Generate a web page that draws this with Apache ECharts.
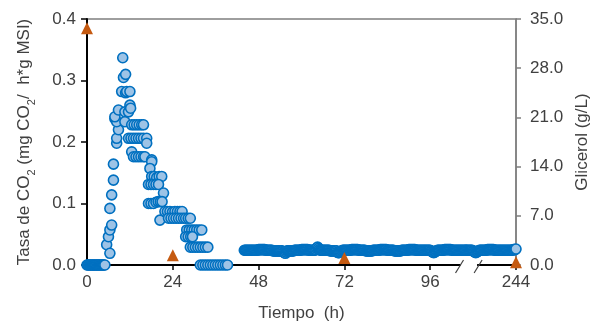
<!DOCTYPE html>
<html>
<head>
<meta charset="utf-8">
<script src="https://cdn.jsdelivr.net/npm/echarts@6/dist/echarts.min.js"></script>
<style>
  html, body { margin: 0; padding: 0; background: #fff; }
  #chart { width: 592px; height: 322px; }
</style>
</head>
<body>
<div id="chart"></div>
<script>
// CO2 rate, first 40 h (hours, mg CO2 / h*g MSI)
const co2Hours = [
  0, 0.25, 0.5, 0.75, 1, 1.25, 1.5, 1.75, 2, 2.25, 2.5, 2.75,
  3, 3.25, 3.5, 3.75, 4, 4.25, 4.5, 4.75, 5,
  5.5, 6.0, 6.4, 6.4, 6.9, 6.4, 6.9, 7.4, 7.4, 8.3, 8.3, 8.8, 7.8, 8.3, 7.8, 8.8,
  9.7, 10.2, 10.8, 10.0, 10.8, 11.1, 12.0, 12.0, 10.6, 10.6, 11.6, 12.2,
  12.5, 13.2, 13.9, 14.6, 15.3, 15.8,
  11.6, 12.3, 13.0, 13.7, 14.4, 15.1, 15.8, 16.7,
  16.7, 12.5,
  13.0, 13.7, 14.4, 15.1, 15.8, 16.2,
  18.1, 18.1, 17.6,
  18.1, 18.8, 19.5, 20.2, 20.9,
  17.2, 17.9, 18.6, 19.3, 20.0,
  21.4,
  17.2, 17.9, 18.6, 19.3, 19.9, 20.5, 21.0,
  20.4,
  21.8, 22.5, 23.2, 23.9, 24.6, 25.3, 26.0, 26.6,
  22.8, 23.5, 24.2, 24.9, 25.6, 26.3, 27.0, 27.6, 28.3, 28.9,
  27.9, 28.6, 29.3, 30.0, 30.7, 31.4, 32.1,
  27.6, 28.3, 29.0, 29.5,
  28.9, 29.6, 30.3, 31.0, 31.7, 32.4, 33.1, 33.8,
  31.7, 32.4, 33.1, 33.8, 34.5, 35.2, 35.9, 36.6, 37.3, 38.0, 38.7, 39.3
];
const co2Rate = [
  0, 0, 0, 0, 0, 0, 0, 0, 0, 0, 0, 0,
  0, 0, 0, 0, 0, 0, 0, 0, 0,
  0.033, 0.046, 0.019, 0.057, 0.065, 0.092, 0.114, 0.138, 0.164, 0.198, 0.206, 0.220, 0.238, 0.233, 0.241, 0.252,
  0.282, 0.305, 0.310, 0.337, 0.280, 0.282, 0.282, 0.260, 0.249, 0.233, 0.249, 0.255,
  0.228, 0.228, 0.228, 0.228, 0.228, 0.228,
  0.206, 0.206, 0.206, 0.206, 0.206, 0.206, 0.206, 0.206,
  0.198, 0.184,
  0.176, 0.176, 0.176, 0.176, 0.176, 0.176,
  0.171, 0.168, 0.157,
  0.144, 0.144, 0.142, 0.144, 0.144,
  0.131, 0.131, 0.131, 0.131, 0.131,
  0.117,
  0.100, 0.100, 0.100, 0.102, 0.103, 0.103, 0.103,
  0.073,
  0.087, 0.087, 0.087, 0.086, 0.087, 0.087, 0.087, 0.087,
  0.076, 0.076, 0.076, 0.076, 0.076, 0.076, 0.076, 0.076, 0.076, 0.076,
  0.057, 0.057, 0.057, 0.057, 0.057, 0.057, 0.057,
  0.046, 0.046, 0.046, 0.046,
  0.029, 0.029, 0.029, 0.029, 0.029, 0.029, 0.029, 0.029,
  0, 0, 0, 0, 0, 0, 0, 0, 0, 0, 0, 0
];

// CO2 rate, steady phase (44 h up to 244 h)
const bandHours = [
  44, 44.25, 44.5, 44.75, 45, 45.25, 45.5, 45.75,
  46, 46.25, 46.5, 46.75, 47, 47.25, 47.5, 47.75,
  48, 48.25, 48.5, 48.75, 49, 49.25, 49.5, 49.75,
  50, 50.25, 50.5, 50.75, 51, 51.25, 51.5, 51.75,
  52, 52.25, 52.5, 52.75, 53, 53.25, 53.5, 53.75,
  54, 54.25, 54.5, 54.75, 55, 55.25, 55.5, 55.75,
  56, 56.25, 56.5, 56.75, 57, 57.25, 57.5, 57.75,
  58, 58.25, 58.5, 58.75, 59, 59.25, 59.5, 59.75,
  60, 60.25, 60.5, 60.75, 61, 61.25, 61.5, 61.75,
  62, 62.25, 62.5, 62.75, 63, 63.25, 63.5, 63.75,
  64, 64.25, 64.5, 64.75, 65, 65.25, 65.5, 65.75,
  66, 66.25, 66.5, 66.75, 67, 67.25, 67.5, 67.75,
  68, 68.25, 68.5, 68.75, 69, 69.25, 69.5, 69.75,
  70, 70.25, 70.5, 70.75, 71, 71.25, 71.5, 71.75,
  72, 72.25, 72.5, 72.75, 73, 73.25, 73.5, 73.75,
  74, 74.25, 74.5, 74.75, 75, 75.25, 75.5, 75.75,
  76, 76.25, 76.5, 76.75, 77, 77.25, 77.5, 77.75,
  78, 78.25, 78.5, 78.75, 79, 79.25, 79.5, 79.75,
  80, 80.25, 80.5, 80.75, 81, 81.25, 81.5, 81.75,
  82, 82.25, 82.5, 82.75, 83, 83.25, 83.5, 83.75,
  84, 84.25, 84.5, 84.75, 85, 85.25, 85.5, 85.75,
  86, 86.25, 86.5, 86.75, 87, 87.25, 87.5, 87.75,
  88, 88.25, 88.5, 88.75, 89, 89.25, 89.5, 89.75,
  90, 90.25, 90.5, 90.75, 91, 91.25, 91.5, 91.75,
  92, 92.25, 92.5, 92.75, 93, 93.25, 93.5, 93.75,
  94, 94.25, 94.5, 94.75, 95, 95.25, 95.5, 95.75,
  96, 96.25, 96.5, 96.75, 97, 97.25, 97.5, 97.75,
  98, 98.25, 98.5, 98.75, 99, 99.25, 99.5, 99.75,
  100, 100.25, 100.5, 100.75, 101, 101.25, 101.5, 101.75,
  102, 102.25, 102.5, 102.75, 103, 103.25, 103.5, 103.75,
  104, 104.25, 104.5, 104.75, 105, 105.25, 105.5, 105.75,
  106,
  230, 230.25, 230.5, 230.75, 231, 231.25, 231.5, 231.75,
  232, 232.25, 232.5, 232.75, 233, 233.25, 233.5, 233.75,
  234, 234.25, 234.5, 234.75, 235, 235.25, 235.5, 235.75,
  236, 236.25, 236.5, 236.75, 237, 237.25, 237.5, 237.75,
  238, 238.25, 238.5, 238.75, 239, 239.25, 239.5, 239.75,
  240, 240.25, 240.5, 240.75, 241, 241.25, 241.5, 241.75,
  242, 242.25, 242.5, 242.75, 243, 243.25, 243.5, 243.75,
  244
];
const bandRate = [
  0.024, 0.024, 0.024, 0.024, 0.024, 0.024, 0.024, 0.024,
  0.024, 0.024, 0.024, 0.024, 0.024, 0.024, 0.024, 0.024,
  0.025, 0.025, 0.025, 0.025, 0.025, 0.025, 0.025, 0.025,
  0.024, 0.024, 0.024, 0.024, 0.024, 0.024, 0.024, 0.024,
  0.023, 0.023, 0.023, 0.023, 0.023, 0.023, 0.023, 0.023,
  0.023, 0.023, 0.023, 0.022, 0.021, 0.020, 0.019, 0.021,
  0.023, 0.023, 0.023, 0.023, 0.023, 0.023, 0.023, 0.023,
  0.024, 0.024, 0.024, 0.024, 0.024, 0.024, 0.024, 0.024,
  0.025, 0.025, 0.025, 0.025, 0.025, 0.025, 0.025, 0.025,
  0.024, 0.024, 0.024, 0.024, 0.024, 0.024, 0.024, 0.024,
  0.025, 0.027, 0.029, 0.027, 0.025, 0.024, 0.024, 0.024,
  0.024, 0.024, 0.024, 0.024, 0.024, 0.024, 0.024, 0.024,
  0.023, 0.023, 0.023, 0.023, 0.023, 0.023, 0.023, 0.023,
  0.021, 0.020, 0.020, 0.021, 0.022, 0.023, 0.024, 0.024,
  0.024, 0.024, 0.024, 0.024, 0.024, 0.024, 0.024, 0.024,
  0.025, 0.025, 0.025, 0.025, 0.025, 0.025, 0.025, 0.025,
  0.024, 0.024, 0.024, 0.024, 0.024, 0.024, 0.024, 0.024,
  0.023, 0.023, 0.023, 0.023, 0.023, 0.023, 0.023, 0.023,
  0.024, 0.024, 0.024, 0.024, 0.024, 0.024, 0.024, 0.024,
  0.025, 0.025, 0.025, 0.025, 0.025, 0.025, 0.025, 0.025,
  0.024, 0.024, 0.024, 0.024, 0.024, 0.024, 0.024, 0.024,
  0.023, 0.023, 0.023, 0.023, 0.023, 0.023, 0.023, 0.023,
  0.024, 0.024, 0.024, 0.024, 0.024, 0.024, 0.024, 0.024,
  0.025, 0.025, 0.025, 0.025, 0.025, 0.025, 0.025, 0.025,
  0.024, 0.024, 0.024, 0.024, 0.024, 0.024, 0.024, 0.024,
  0.024, 0.024, 0.024, 0.024, 0.024, 0.024, 0.024, 0.024,
  0.024, 0.023, 0.022, 0.021, 0.020, 0.021, 0.022, 0.023,
  0.024, 0.024, 0.024, 0.024, 0.024, 0.024, 0.024, 0.024,
  0.025, 0.025, 0.025, 0.025, 0.025, 0.025, 0.025, 0.025,
  0.024, 0.024, 0.024, 0.024, 0.024, 0.024, 0.024, 0.024,
  0.024, 0.024, 0.024, 0.024, 0.024, 0.024, 0.024, 0.024,
  0.024,
  0.024, 0.024, 0.024, 0.024, 0.024, 0.024, 0.024, 0.024,
  0.023, 0.022, 0.021, 0.020, 0.021, 0.022, 0.023, 0.024,
  0.024, 0.024, 0.024, 0.024, 0.024, 0.024, 0.024, 0.024,
  0.025, 0.025, 0.025, 0.025, 0.025, 0.025, 0.025, 0.025,
  0.024, 0.024, 0.024, 0.024, 0.024, 0.024, 0.024, 0.024,
  0.024, 0.024, 0.024, 0.024, 0.024, 0.024, 0.024, 0.024,
  0.024, 0.024, 0.024, 0.024, 0.024, 0.025, 0.025, 0.025,
  0.026
];

// glycerol (g/L)
const glyHours = [0, 24, 72, 244];
const glyConc = [33.7, 1.4, 1.0, 0.4];

const xTicks = [0, 24, 48, 72, 96, 244];

// broken time axis: 106 h .. 230 h is cut out
const BREAK_FROM = 106;
const BREAK_TO = 230;
const CUT = BREAK_TO - BREAK_FROM;
const toAxis = t => (t <= BREAK_FROM ? t : t - CUT);
const breakMarks = [104.2, 109.4];

const FONT = 'Liberation Sans, Arial, sans-serif';
const TXT = '#404040';

const co2Points = co2Hours.map((t, i) => [toAxis(t), co2Rate[i]])
  .concat(bandHours.map((t, i) => [toAxis(t), bandRate[i]]));
const glyPoints = glyHours.map((t, i) => [toAxis(t), glyConc[i]]);

const chart = echarts.init(document.getElementById('chart'), null, { renderer: 'canvas' });

chart.setOption({
  animation: false,
  textStyle: { fontFamily: FONT },
  grid: {
    left: 87, right: 76, top: 19, bottom: 57,
    outerBoundsMode: 'none',
    containLabel: false,
    show: true, borderColor: '#7f7f7f', borderWidth: 1.5, backgroundColor: 'transparent'
  },
  xAxis: {
    type: 'value',
    min: 0,
    max: toAxis(244),
    interval: 24,
    name: 'Tiempo  (h)',
    nameLocation: 'middle',
    nameGap: 40,
    nameTextStyle: { fontSize: 17, color: TXT, fontFamily: FONT },
    splitLine: { show: false },
    axisLine: { onZero: false, lineStyle: { color: '#000', width: 2 } },
    axisTick: { length: 5, lineStyle: { color: '#000', width: 1.5 } },
    axisLabel: {
      margin: 9,
      fontSize: 17,
      color: TXT,
      fontFamily: FONT,
      formatter: v => {
        const real = v > BREAK_FROM ? v + CUT : v;
        return xTicks.includes(real) ? String(real) : '';
      }
    }
  },
  yAxis: [
    {
      type: 'value',
      min: 0,
      max: 0.4,
      interval: 0.1,
      name: 'Tasa de CO{sub|2} (mg CO{sub|2}/  h*g MSI)',
      nameLocation: 'middle',
      nameGap: 50,
      nameRotate: 90,
      nameTextStyle: {
        fontSize: 17, color: TXT, fontFamily: FONT,
        rich: { sub: { fontSize: 11, color: TXT, fontFamily: FONT, verticalAlign: 'bottom', lineHeight: 26 } }
      },
      splitLine: { show: false },
      axisLine: { show: true, lineStyle: { color: '#000', width: 2 } },
      axisTick: { show: true, length: 6, lineStyle: { color: '#000', width: 1.5 } },
      axisLabel: { margin: 11, fontSize: 17, color: TXT, fontFamily: FONT, formatter: v => v.toFixed(1) }
    },
    {
      type: 'value',
      position: 'right',
      min: 0,
      max: 35,
      interval: 7,
      name: 'Glicerol (g/L)',
      nameLocation: 'middle',
      nameGap: 58,
      nameRotate: 90,
      nameTextStyle: { fontSize: 17, color: TXT, fontFamily: FONT },
      splitLine: { show: false },
      axisLine: { show: true, lineStyle: { color: '#7f7f7f', width: 1.5 } },
      axisTick: { show: true, length: 5, lineStyle: { color: '#7f7f7f', width: 1.5 } },
      axisLabel: { margin: 14, fontSize: 17, color: TXT, fontFamily: FONT, formatter: v => v.toFixed(1) }
    }
  ],
  series: [
    {
      name: 'CO2',
      type: 'scatter',
      yAxisIndex: 0,
      symbol: 'circle',
      symbolSize: 10,
      itemStyle: { color: '#9dc3e6', borderColor: '#0070c0', borderWidth: 1.6, opacity: 1 },
      data: co2Points,
      large: false,
      progressive: 0,
      clip: false,
      z: 3
    },
    {
      name: 'Glicerol',
      type: 'scatter',
      yAxisIndex: 1,
      symbol: 'triangle',
      symbolSize: [12, 12],
      itemStyle: { color: '#c55a11', opacity: 1 },
      data: glyPoints,
      clip: false,
      z: 4
    }
  ]
});

// break marks on the time axis
const pa = chart.convertToPixel({ gridIndex: 0 }, [breakMarks[0], 0]);
const pb = chart.convertToPixel({ gridIndex: 0 }, [breakMarks[1], 0]);
const slash = (x, y) => ({
  type: 'line',
  z: 101,
  shape: { x1: x - 4, y1: y + 7, x2: x + 4, y2: y - 6 },
  style: { stroke: '#404040', lineWidth: 1.2 }
});
chart.setOption({
  graphic: [
    {
      type: 'rect',
      z: 100,
      shape: { x: pa[0] + 1, y: pa[1] - 2, width: pb[0] - pa[0] - 2, height: 4 },
      style: { fill: '#fff' }
    },
    slash(pa[0], pa[1] + 1),
    slash(pb[0], pb[1] + 1)
  ]
});
</script>
</body>
</html>
